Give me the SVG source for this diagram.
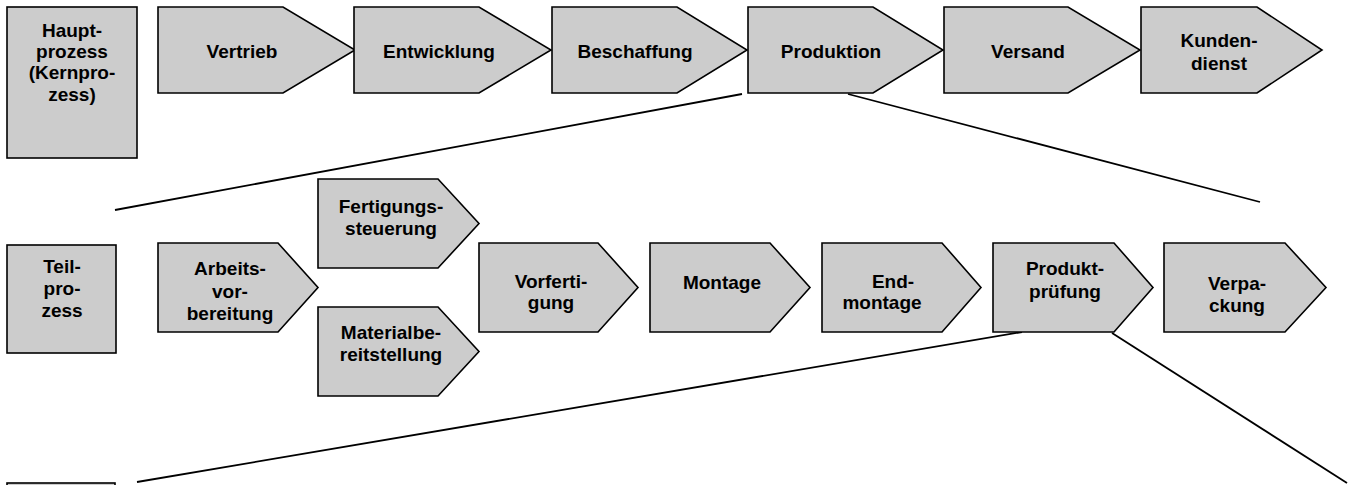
<svg xmlns="http://www.w3.org/2000/svg" width="1355" height="485" viewBox="0 0 1355 485">
<style>
.s{fill:#cccccc;stroke:#000;stroke-width:1.6;stroke-linejoin:miter}
.t{font-family:"Liberation Sans",Arial,sans-serif;font-weight:bold;font-size:19px;fill:#000;text-anchor:middle}
.c{stroke:#000;stroke-width:1.8;fill:none}
</style>
<rect width="1355" height="485" fill="#fff"/>
<g id="connectors">
<line class="c" x1="742" y1="94" x2="115" y2="210"/>
<line class="c" x1="848" y1="94" x2="1260" y2="202"/>
<line class="c" x1="1022" y1="332" x2="137" y2="482"/>
<line class="c" x1="1112" y1="333" x2="1347" y2="483"/>
</g>
<g id="hauptprozess">
<rect class="s" x="7" y="7" width="130" height="151"/>
<text class="t"><tspan x="72" y="37">Haupt-</tspan><tspan x="72" y="58">prozess</tspan><tspan x="72" y="79">(Kernpro-</tspan><tspan x="72" y="100.5">zess)</tspan></text>
</g>
<g id="vertrieb">
<path class="s" d="M158,7H283L355,50L283,93H158Z"/>
<text class="t" x="242" y="58">Vertrieb</text>
</g>
<g id="entwicklung">
<path class="s" d="M354,7H479L551,50L479,93H354Z"/>
<text class="t" x="439" y="58">Entwicklung</text>
</g>
<g id="beschaffung">
<path class="s" d="M552,7H677L747,50L677,93H552Z"/>
<text class="t" x="635" y="58">Beschaffung</text>
</g>
<g id="produktion">
<path class="s" d="M748,7H873L943,50L873,93H748Z"/>
<text class="t" x="831" y="58">Produktion</text>
</g>
<g id="versand">
<path class="s" d="M944,7H1068L1140,50L1068,93H944Z"/>
<text class="t" x="1028" y="58">Versand</text>
</g>
<g id="kundendienst">
<path class="s" d="M1141,7H1257L1322,50L1257,93H1141Z"/>
<text class="t"><tspan x="1219" y="47">Kunden-</tspan><tspan x="1219" y="70">dienst</tspan></text>
</g>
<g id="teilprozess">
<rect class="s" x="7" y="245" width="109" height="108"/>
<text class="t"><tspan x="62" y="273">Teil-</tspan><tspan x="62" y="295">pro-</tspan><tspan x="62" y="317">zess</tspan></text>
</g>
<g id="arbeitsvorbereitung">
<path class="s" d="M158,243H278L318,287.5L278,332H158Z"/>
<text class="t"><tspan x="230" y="275">Arbeits-</tspan><tspan x="230" y="297.5">vor-</tspan><tspan x="230" y="320">bereitung</tspan></text>
</g>
<g id="fertigungssteuerung">
<path class="s" d="M318,179H438L479,223.5L438,268H318Z"/>
<text class="t"><tspan x="391" y="213">Fertigungs-</tspan><tspan x="391" y="235">steuerung</tspan></text>
</g>
<g id="materialbereitstellung">
<path class="s" d="M318,307H438L479,351.5L438,396H318Z"/>
<text class="t"><tspan x="391" y="339">Materialbe-</tspan><tspan x="391" y="361">reitstellung</tspan></text>
</g>
<g id="vorfertigung">
<path class="s" d="M479,243H598L638,287.5L598,332H479Z"/>
<text class="t"><tspan x="551" y="288">Vorferti-</tspan><tspan x="551" y="309">gung</tspan></text>
</g>
<g id="montage">
<path class="s" d="M650,243H770L810,287.5L770,332H650Z"/>
<text class="t" x="722" y="289">Montage</text>
</g>
<g id="endmontage">
<path class="s" d="M822,243H942L981,287.5L942,332H822Z"/>
<text class="t"><tspan x="893" y="288">End-</tspan><tspan x="882" y="309">montage</tspan></text>
</g>
<g id="produktpruefung">
<path class="s" d="M993,243H1114L1153,287.5L1114,332H993Z"/>
<text class="t"><tspan x="1065" y="275">Produkt-</tspan><tspan x="1065" y="298">prüfung</tspan></text>
</g>
<g id="verpackung">
<path class="s" d="M1164,243H1285L1326,287.5L1285,332H1164Z"/>
<text class="t"><tspan x="1237" y="290">Verpa-</tspan><tspan x="1237" y="312">ckung</tspan></text>
</g>
<g id="aktivitaet">
<rect class="s" x="7" y="483" width="108" height="30"/>
</g>
</svg>
